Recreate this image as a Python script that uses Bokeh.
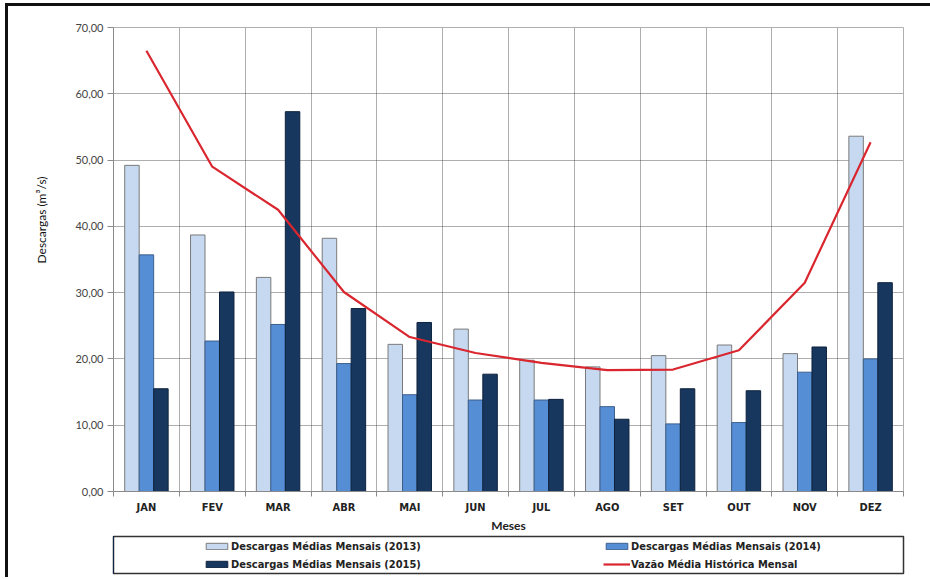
from bokeh.plotting import figure
from bokeh.layouts import column
from bokeh.models import ColumnDataSource, FixedTicker, Legend, LegendItem, Range1d, Title
from bokeh.transform import dodge
from bokeh.embed import file_html
from bokeh.resources import INLINE

# ---------------- data ----------------
months = ["JAN", "FEV", "MAR", "ABR", "MAI", "JUN", "JUL", "AGO", "SET", "OUT", "NOV", "DEZ"]
q2013 = [49.2, 38.7, 32.3, 38.2, 22.2, 24.5, 19.8, 18.8, 20.5, 22.1, 20.8, 53.6]
q2014 = [35.7, 22.7, 25.2, 19.3, 14.6, 13.8, 13.8, 12.8, 10.2, 10.4, 18.0, 20.0]
q2015 = [15.5, 30.1, 57.3, 27.6, 25.5, 17.7, 13.9, 10.9, 15.5, 15.2, 21.8, 31.5]
vazao = [66.5, 49.0, 42.5, 30.1, 23.3, 20.9, 19.4, 18.3, 18.4, 21.3, 31.5, 52.7]
y_ticks = [0, 10, 20, 30, 40, 50, 60, 70]
y_tick_labels = ["0,00", "10,00", "20,00", "30,00", "40,00", "50,00", "60,00", "70,00"]
series_labels = ["Descargas Médias Mensais (2013)",
                 "Descargas Médias Mensais (2014)",
                 "Descargas Médias Mensais (2015)",
                 "Vazão Média Histórica Mensal"]
x_title = "Meses"
y_title = "Descargas (m³/s)"

# ---------------- styles ----------------
C13, C14, C15, CL = "#c6d9f0", "#558ed5", "#17375e", "#d9262f"
L13, L14, L15 = "#7a7a7a", "#3d5f8c", "#0e223d"
NARROW = "'Liberation Sans Narrow', 'DejaVu Sans Condensed', 'Arial Narrow', 'Roboto', sans-serif"
CAL = "'Lato', 'Open Sans', sans-serif"

xpos = list(range(1, len(months) + 1))
bounds = [i + 0.5 for i in range(0, len(months) + 1)]

src = ColumnDataSource(dict(x=xpos, q2013=q2013, q2014=q2014, q2015=q2015, vazao=vazao))

p = figure(frame_width=790, frame_height=464,
           x_range=Range1d(0.5, len(months) + 0.5), y_range=Range1d(0, 70),
           output_backend="svg", toolbar_location=None,
           min_border_left=105, min_border_right=27, min_border_top=21, min_border_bottom=41,
           background_fill_color="white", border_fill_color="white",
           outline_line_color="#b0b0b0", outline_line_width=1)

bw = 0.22
bar_styles = [dict(fill_color=C13, line_color=L13, line_width=1),
              dict(fill_color=C14, line_color=L14, line_width=1),
              dict(fill_color=C15, line_color=L15, line_width=1)]
line_style = dict(line_color=CL, line_width=2.2)

r13 = p.vbar(x=dodge("x", -bw, range=p.x_range), top="q2013", width=bw, source=src, **bar_styles[0])
r14 = p.vbar(x=dodge("x", 0, range=p.x_range), top="q2014", width=bw, source=src, **bar_styles[1])
r15 = p.vbar(x=dodge("x", bw, range=p.x_range), top="q2015", width=bw, source=src, **bar_styles[2])
rl = p.line(x="x", y="vazao", source=src, **line_style)

# axes
p.xaxis.ticker = FixedTicker(ticks=xpos, minor_ticks=bounds)
p.xaxis.major_label_overrides = {x: m for x, m in zip(xpos, months)}
p.xaxis.major_tick_out = 0
p.xaxis.major_tick_in = 0
p.xaxis.minor_tick_out = 5
p.xaxis.minor_tick_in = 0
p.xaxis.minor_tick_line_color = "#8a8a8a"
p.xaxis.axis_line_color = "#8a8a8a"
p.xaxis.major_label_standoff = 4
p.xaxis.major_label_text_font = NARROW
p.xaxis.major_label_text_font_style = "bold"
p.xaxis.major_label_text_font_size = "11px"
p.xaxis.major_label_text_color = "#222222"
p.xaxis.axis_label = x_title
p.xaxis.axis_label_text_font = CAL
p.xaxis.axis_label_text_font_style = "bold"
p.xaxis.axis_label_text_font_size = "12px"
p.xaxis.axis_label_text_color = "#222222"
p.xaxis.axis_label_standoff = 1

p.yaxis.ticker = FixedTicker(ticks=y_ticks)
p.yaxis.major_label_overrides = {t: s for t, s in zip(y_ticks, y_tick_labels)}
p.yaxis.minor_tick_line_color = None
p.yaxis.major_tick_out = 6
p.yaxis.major_tick_in = 0
p.yaxis.major_tick_line_color = "#8a8a8a"
p.yaxis.axis_line_color = "#8a8a8a"
p.yaxis.major_label_standoff = 4
p.yaxis.major_label_text_font = CAL
p.yaxis.major_label_text_font_size = "11px"
p.yaxis.major_label_text_color = "#444444"

# y-axis title (placed a little above the middle, as in the reference)
ytitle = Title(text=y_title, align="left", offset=228, standoff=47,
               text_font=CAL, text_font_style="normal", text_font_size="12px",
               text_color="#111111")
p.add_layout(ytitle, "left")

# grids
p.ygrid.ticker = FixedTicker(ticks=y_ticks)
p.ygrid.grid_line_color = "#3f3f3f"
p.ygrid.grid_line_dash = "1 1"
p.ygrid.grid_line_alpha = 0.85
p.xgrid.ticker = FixedTicker(ticks=bounds[1:-1])
p.xgrid.grid_line_color = "#3f3f3f"
p.xgrid.grid_line_dash = "1 1"
p.xgrid.grid_line_alpha = 0.85

# ---------------- legend panel (framed box below the chart) ----------------
lp = figure(frame_width=790, frame_height=37,
            x_range=Range1d(100, 101), y_range=Range1d(0, 1),
            x_axis_type=None, y_axis_type=None,
            output_backend="svg", toolbar_location=None,
            min_border_left=102, min_border_right=30, min_border_top=1, min_border_bottom=4,
            background_fill_color="white", border_fill_color="white",
            outline_line_color="#333333", outline_line_width=1.5)

# same series drawn outside this panel's visible range, used only for legend swatches
e13 = lp.vbar(x="x", top="q2013", width=bw, source=src, **bar_styles[0])
e14 = lp.vbar(x="x", top="q2014", width=bw, source=src, **bar_styles[1])
e15 = lp.vbar(x="x", top="q2015", width=bw, source=src, **bar_styles[2])
el = lp.line(x="x", y="vazao", source=src, **line_style)


def col_legend(items, loc):
    lg = Legend(items=items, location=loc, margin=0, padding=0, spacing=4,
                glyph_width=27, glyph_height=8, label_height=14, label_standoff=1,
                label_text_font=NARROW, label_text_font_style="bold",
                label_text_font_size="11px", label_text_color="#222222",
                border_line_alpha=0, background_fill_alpha=0)
    lp.add_layout(lg)
    return lg


col_legend([LegendItem(label=series_labels[0], renderers=[e13]),
            LegendItem(label=series_labels[2], renderers=[e15])], (90, 2))
col_legend([LegendItem(label=series_labels[1], renderers=[e14]),
            LegendItem(label=series_labels[3], renderers=[el])], (490, 2))

layout = column(p, lp, spacing=0,
                styles={"border-top": "3px solid #111", "border-left": "3px solid #111",
                        "margin-top": "3px", "margin-left": "5px"})

open("out.html", "w").write(file_html(layout, INLINE))
